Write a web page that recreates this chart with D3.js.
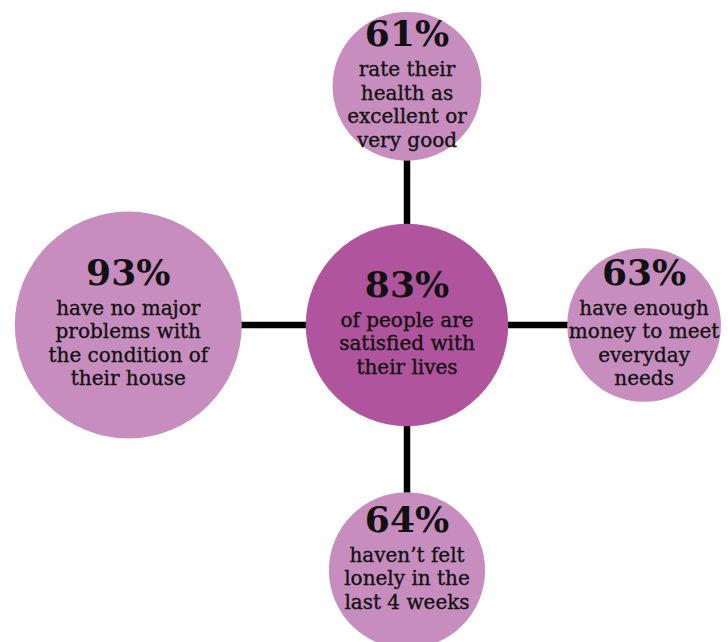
<!DOCTYPE html>
<html>
<head>
<meta charset="utf-8">
<script src="https://cdn.jsdelivr.net/npm/d3@7/dist/d3.min.js"></script>
<style>
  html, body { margin: 0; padding: 0; background: #ffffff; }
  svg { display: block; }
</style>
</head>
<body>
<svg id="chart" width="728" height="642"></svg>
<script>
// Central statistic
const hubValue = 83;
const hubLines = ["of people are", "satisfied with", "their lives"];

// Surrounding statistics, clockwise from the top
const spokeValues = [61, 63, 64, 93];
const spokeLines = [
  ["rate their", "health as", "excellent or", "very good"],
  ["have enough", "money to meet", "everyday", "needs"],
  ["haven\u2019t felt", "lonely in the", "last 4 weeks"],
  ["have no major", "problems with", "the condition of", "their house"]
];

const W = 728, H = 642;
const hub = { x: 407, y: 325 };
const gaps = [63, 59, 66, 64];          // space between hub edge and each spoke edge
const angles = [-90, 0, 90, 180];        // degrees, top / right / bottom / left
const textNudge = [0, 0, -10, 0];       // bottom bubble runs off the page, lift its text

const colHub = "#b0549d";
const colSpoke = "#c88dbf";
const ink = "#111111";

const rScale = d3.scaleLinear().domain([0, 100]).range([0, 122]);

const svg = d3.select("#chart");

const hubR = rScale(hubValue);
const spokes = spokeValues.map((v, i) => {
  const r = rScale(v);
  const a = angles[i] * Math.PI / 180;
  const dist = hubR + gaps[i] + r;
  return {
    value: v,
    lines: spokeLines[i],
    r,
    x: hub.x + Math.cos(a) * dist,
    y: hub.y + Math.sin(a) * dist,
    nudge: textNudge[i]
  };
});

// Connectors behind the bubbles
svg.append("g")
  .selectAll("line")
  .data(spokes)
  .join("line")
  .attr("x1", hub.x).attr("y1", hub.y)
  .attr("x2", d => d.x).attr("y2", d => d.y)
  .attr("stroke", "#000000")
  .attr("stroke-width", 6.5);

const nodes = [{ value: hubValue, lines: hubLines, r: hubR, x: hub.x, y: hub.y, nudge: 0, hub: true }]
  .concat(spokes);

const g = svg.append("g")
  .selectAll("g")
  .data(nodes)
  .join("g")
  .attr("transform", d => `translate(${d.x},${d.y})`);

g.append("circle")
  .attr("r", d => d.r)
  .attr("fill", d => d.hub ? colHub : colSpoke);

const numSize = 36, capH = 26, firstGap = 30, lineH = 23.5;

g.each(function (d) {
  const sel = d3.select(this);
  const n = d.lines.length;
  const blockH = capH + firstGap + (n - 1) * lineH;
  const top = -3 - blockH / 2 + d.nudge;
  const numBase = top + capH;

  sel.append("text")
    .attr("x", 0)
    .attr("y", numBase)
    .attr("text-anchor", "middle")
    .attr("font-family", "'DejaVu Serif', serif")
    .attr("font-weight", "bold")
    .attr("font-size", numSize)
    .attr("fill", ink)
    .text(d3.format(".0f")(d.value) + "%");

  sel.selectAll("text.line")
    .data(d.lines)
    .join("text")
    .attr("class", "line")
    .attr("x", 0)
    .attr("y", (t, i) => numBase + firstGap + i * lineH)
    .attr("text-anchor", "middle")
    .attr("font-family", "'DejaVu Serif', serif")
    .attr("font-size", 20)
    .attr("fill", ink)
    .attr("stroke", ink)
    .attr("stroke-width", 0.35)
    .text(t => t);
});
</script>
</body>
</html>
